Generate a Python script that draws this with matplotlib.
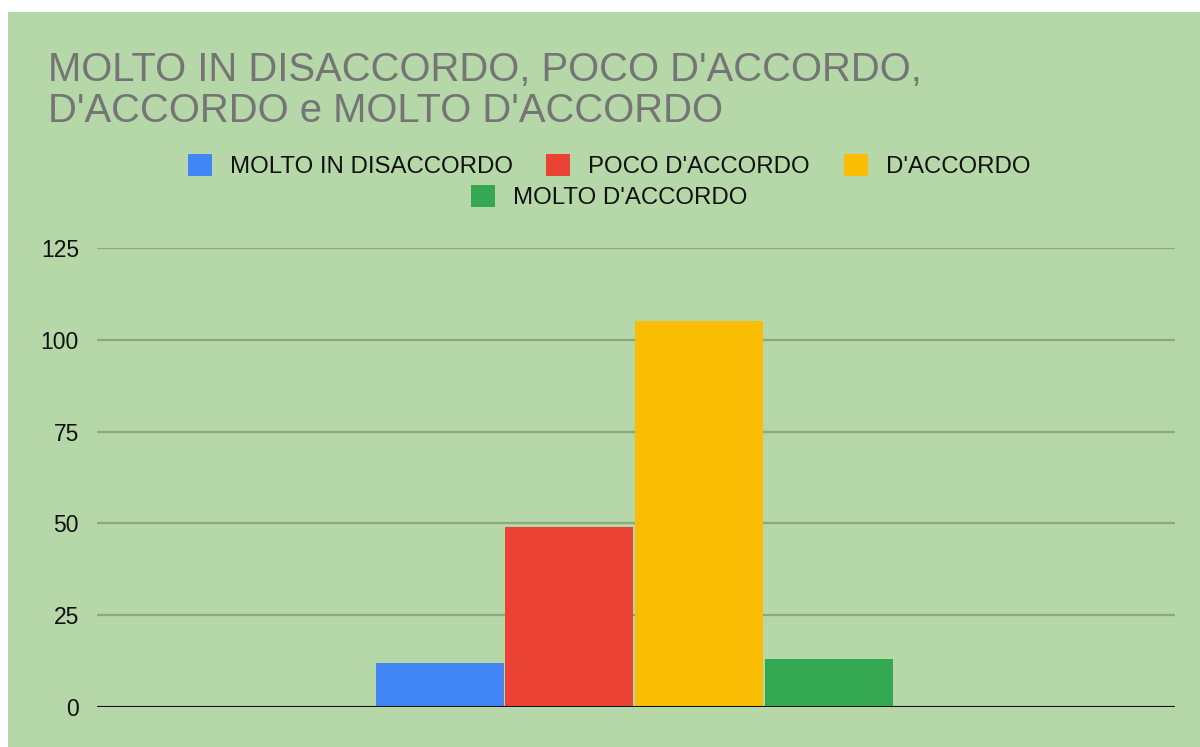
import matplotlib
matplotlib.use("Agg")
import matplotlib.pyplot as plt
from matplotlib.patches import Patch, Rectangle

series = ["MOLTO IN DISACCORDO", "POCO D'ACCORDO", "D'ACCORDO", "MOLTO D'ACCORDO"]
values = [12, 49, 105, 13]
colors = ["#4285f4", "#ea4335", "#fbbc04", "#34a853"]
yticks = [0, 25, 50, 75, 100, 125]
title_lines = ["MOLTO IN DISACCORDO, POCO D'ACCORDO,", "D'ACCORDO e MOLTO D'ACCORDO"]

plt.rcParams['font.family'] = ['Liberation Sans', 'DejaVu Sans']
BG = "#b6d7a8"

fig = plt.figure(figsize=(12, 7.47), dpi=100, facecolor="white")
fig.patches.append(Rectangle((8/1200, 0), 1 - 8/1200, 1 - 12/747, transform=fig.transFigure,
                             facecolor=BG, edgecolor="none", zorder=-10))

ax = fig.add_axes([97/1200, 1 - 707/747, (1175-97)/1200, (707-248)/747])
ax.set_facecolor(BG)
ax.patch.set_alpha(0)

n = len(values)
step = 0.1205
width = 0.1187
for i, (v, c) in enumerate(zip(values, colors)):
    ax.bar((i - (n - 1) / 2) * step - 0.0015, v, width=width, color=c, zorder=3)

ax.set_xlim(-0.5, 0.5)
ax.set_ylim(0, 125)
ax.set_yticks(yticks)
ax.set_yticklabels([str(t) for t in yticks], fontsize=16.5, color="#111111")
ax.set_xticks([])
ax.tick_params(axis="y", length=0, pad=13)
for s in ax.spines.values():
    s.set_visible(False)
ax.grid(axis="y", color="#8aa982", linewidth=1.6, zorder=1)
ax.axhline(0, color="#111111", linewidth=2.2, zorder=4)

# title
fig.text(48/1200, 1 - 81/747, title_lines[0], fontsize=28.8, color="#757575", va="baseline", ha="left")
fig.text(48/1200, 1 - 122/747, title_lines[1], fontsize=28.8, color="#757575", va="baseline", ha="left")

handles = [Patch(facecolor=c, edgecolor="none", label=s) for s, c in zip(series, colors)]
common = dict(frameon=False, fontsize=17.3, handlelength=1.0, handleheight=1.05,
              handletextpad=0.75, columnspacing=1.4, borderpad=0, labelcolor="#111111")
leg1 = fig.legend(handles=handles[:3], ncol=3, loc="center",
                  bbox_to_anchor=(609/1200, 1 - 166/747), **common)
leg2 = fig.legend(handles=handles[3:], ncol=1, loc="center",
                  bbox_to_anchor=(609/1200, 1 - 197/747), **common)

fig.savefig("out.png", dpi=100, facecolor=fig.get_facecolor())
